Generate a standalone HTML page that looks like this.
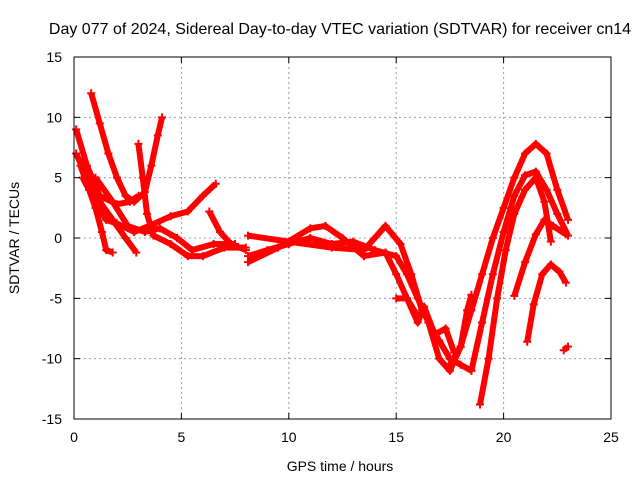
<!DOCTYPE html>
<html><head><meta charset="utf-8"><style>
body{margin:0;background:#fff}
svg{display:block;font-family:"Liberation Sans",sans-serif}
</style></head><body>
<svg id="chart" width="640" height="480" xmlns="http://www.w3.org/2000/svg">
<text x="340" y="34" font-size="16" text-anchor="middle">Day 077 of 2024, Sidereal Day-to-day VTEC variation (SDTVAR) for receiver cn14</text>
<text x="340" y="471" font-size="14" text-anchor="middle">GPS time / hours</text>
<text x="0" y="0" font-size="14" text-anchor="middle" transform="translate(19,238) rotate(-90)">SDTVAR / TECUs</text>
<g id="grid"></g><g id="marks"></g><g id="axes"></g>
</svg>
<script>
const xTicks=[0,5,10,15,20,25];
const yTicks=[-15,-10,-5,0,5,10,15];
const track1=[[0.8,12],[1.2,9.5],[1.6,7],[2.0,5],[2.4,3.5],[2.8,3],[3.3,3.8],[3.6,6],[3.9,8.5],[4.1,10]];
const track2=[[0.3,6],[0.7,4],[1.0,2.5],[1.3,0.5],[1.5,-1],[1.8,-1.2]];
const track3=[[0.1,7],[0.6,5],[1.2,3],[1.8,1.5],[2.4,0],[2.9,-1.2]];
const track4=[[0.4,5],[1.0,3],[1.5,1.5],[2.0,1.2],[2.8,0.5],[3.5,1.0],[4.5,1.8],[5.3,2.2],[6.0,3.5],[6.6,4.5]];
const track5=[[0.1,9],[0.6,6],[1.2,3.5],[2.0,2.8],[2.6,3.0],[3.0,3.5]];
const track6=[[3.0,7.8],[3.2,5],[3.4,2],[3.7,0.2],[4.5,-0.5],[5.3,-1.5],[6.0,-1.5],[7,-0.8],[8,-0.8]];
const track7=[[1.0,5],[1.8,3],[2.5,1],[3.3,0.5],[4,0.8],[4.8,0],[5.5,-1],[6.5,-0.5],[7.5,-0.5]];
const track8=[[6.3,2.2],[6.8,0.5],[7.3,-0.5],[8.0,-1]];
const track9=[[8.1,-1.5],[9,-1],[10,-0.5],[11,0],[12,-0.5],[13,-0.3],[14,-1.0],[15,-1.5],[15.5,-3],[16,-5],[16.5,-7],[17,-8.5],[17.5,-10],[18,-10.5],[18.5,-11]];
const track10=[[8.1,-2],[9.5,-0.8],[11,0.8],[11.7,1],[12.5,0],[13.5,-1.5],[14.5,-1.2],[15,-3],[15.5,-5],[16,-6.5]];
const track11=[[8.1,0.2],[10,-0.3],[12,-0.8],[13.5,-1],[14.5,1.0],[15.2,-0.5],[15.7,-3],[16.2,-6]];
const track12=[[16.5,-7],[17,-10],[17.5,-11],[18,-9],[18.5,-6],[19,-3],[19.5,0],[20,2.5],[20.5,5],[21,7],[21.5,7.8],[22,7],[22.5,4],[23,1.5]];
const track13=[[18.5,-11],[19,-7],[19.5,-3],[20,0.5],[20.5,3.5],[21,5.2],[21.5,5.5],[22,4],[22.5,2],[23,0.2]];
const track14=[[18.9,-13.8],[19.3,-10],[19.7,-5],[20.1,-1],[20.5,2],[21,4],[21.5,5],[21.9,3],[22.2,-0.3]];
const track15=[[20.5,-4.8],[21,-2],[21.5,0.3],[21.9,1.5],[22.3,1],[22.9,0.3]];
const track16=[[21.1,-8.6],[21.4,-5.5],[21.8,-3],[22.2,-2.2],[22.6,-2.8],[22.9,-3.7]];
const track17=[[22.8,-9.3],[23,-9]];
const track18=[[17.5,-10.5],[18,-9],[18.3,-6],[18.5,-4.7]];
const track19=[[15,-5],[15.5,-5],[16.0,-7],[16.3,-5.7],[16.8,-8],[17.3,-7.5],[17.7,-9.5]];
const tracks=[track1,track2,track3,track4,track5,track6,track7,track8,track9,track10,track11,track12,track13,track14,track15,track16,track17,track18,track19];
const X0=74,X1=611,Y0=419,Y1=57;
const xs=t=>X0+(t-0)/(25-0)*(X1-X0);
const ys=v=>Y0-(v+15)/30*(Y0-Y1);
const NS="http://www.w3.org/2000/svg";
const grid=document.getElementById('grid'),axes=document.getElementById('axes'),marks=document.getElementById('marks');
function mk(tag,attrs,parent){const e=document.createElementNS(NS,tag);for(const k in attrs)e.setAttribute(k,attrs[k]);parent.appendChild(e);return e;}
xTicks.forEach(t=>{
 const x=xs(t);
 if(t>0&&t<25){const g=mk('line',{x1:x,x2:x,y1:Y1,y2:Y0,stroke:'#a0a0a0','stroke-dasharray':'2,3'},grid);
 
 }
 mk('line',{x1:x,x2:x,y1:Y0,y2:Y0-6,stroke:'#000'},axes);
 mk('line',{x1:x,x2:x,y1:Y1,y2:Y1+6,stroke:'#000'},axes);
 const l=mk('text',{x:x,y:Y0+23,'font-size':14,'text-anchor':'middle'},axes);l.textContent=t;
 
 
});
yTicks.forEach(v=>{
 const y=ys(v);
 if(v>-15&&v<15){const g=mk('line',{x1:X0,x2:X1,y1:y,y2:y,stroke:'#a0a0a0','stroke-dasharray':'2,3'},grid);
 
 }
 mk('line',{x1:X0,x2:X0+6,y1:y,y2:y,stroke:'#000'},axes);
 mk('line',{x1:X1,x2:X1-6,y1:y,y2:y,stroke:'#000'},axes);
 const l=mk('text',{x:X0-12,y:y+5,'font-size':14,'text-anchor':'end'},axes);l.textContent=v;
 
 
});
const box=mk('rect',{x:X0,y:Y1,width:X1-X0,height:Y0-Y1,fill:'none',stroke:'#000'},axes);


tracks.forEach((tr,i)=>{
 const pl=mk('polyline',{points:tr.map(p=>xs(p[0])+','+ys(p[1])).join(' '),fill:'none',stroke:'#ff0000','stroke-width':6,'stroke-linejoin':'round'},marks);
 
 
 tr.forEach(p=>{
  const x=xs(p[0]),y=ys(p[1]);
  const m=mk('path',{d:`M${x-4},${y}h8M${x},${y-4}v8`,stroke:'#ff0000','stroke-width':2},marks);
  
  
 });
});
</script>
</body></html>
